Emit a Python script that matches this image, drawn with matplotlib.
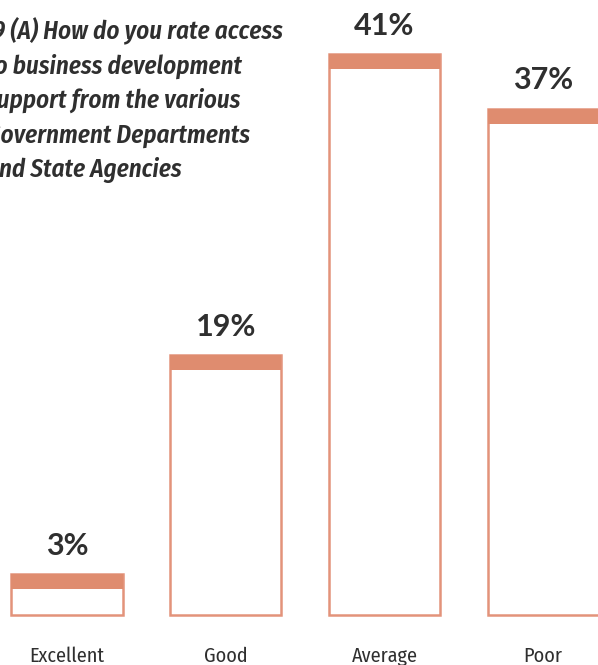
import matplotlib.pyplot as plt
import numpy as np

# Values
categories = ["Excellent", "Good", "Average", "Poor"]
percent = [3, 19, 41, 37]

title_lines = ["Q9 (A) How do you rate access",
               "to business development",
               "support from the various",
               "Government Departments",
               "and State Agencies"]

orange = "#DF8C6F"
edge = "#E3937A"
dark = "#2F2F2F"

# Figure, one axis filling the whole canvas
fig = plt.figure(figsize=(5.98, 6.65), dpi=100)
ax = fig.add_axes([0, 0, 1, 1])
ax.set_xlim(-0.422, 3.346)
ax.set_ylim(-3.65, 44.95)
ax.axis("off")

ind = np.arange(len(categories))
width = 0.70
band = 1.1  # thickness of the coloured cap

# Outlined bars plus a solid cap on top
ax.bar(ind, percent, width, facecolor="white", edgecolor=edge, linewidth=1.8)
ax.bar(ind, [band] * len(percent), width, bottom=[p - band for p in percent],
       color=orange, linewidth=0)

# Value labels above each bar
for x, p in zip(ind, percent):
    ax.annotate("{}%".format(p), xy=(x, p), xytext=(0, 14),
                textcoords="offset points", ha="center", va="baseline",
                fontsize=22, fontweight="bold", color=dark, family="Lato")

# Category labels under the bars
for x, c in zip(ind, categories):
    ax.text(x, 0.005, c, transform=ax.get_xaxis_transform(), ha="center",
            va="baseline", fontsize=14.5, color=dark, family="Fira Sans Condensed")

# Question text, partly cut off at the left edge
offsets = [-23, -14, -14, -14, -14]
for i, line in enumerate(title_lines):
    fig.text(offsets[i] / 598, 1 - (39 + i * 34.5) / 665, line, ha="left", va="baseline",
             fontsize=18, fontweight=600, fontstyle="italic", color=dark,
             family="Fira Sans Condensed")

fig.savefig("out.png", dpi=100)
